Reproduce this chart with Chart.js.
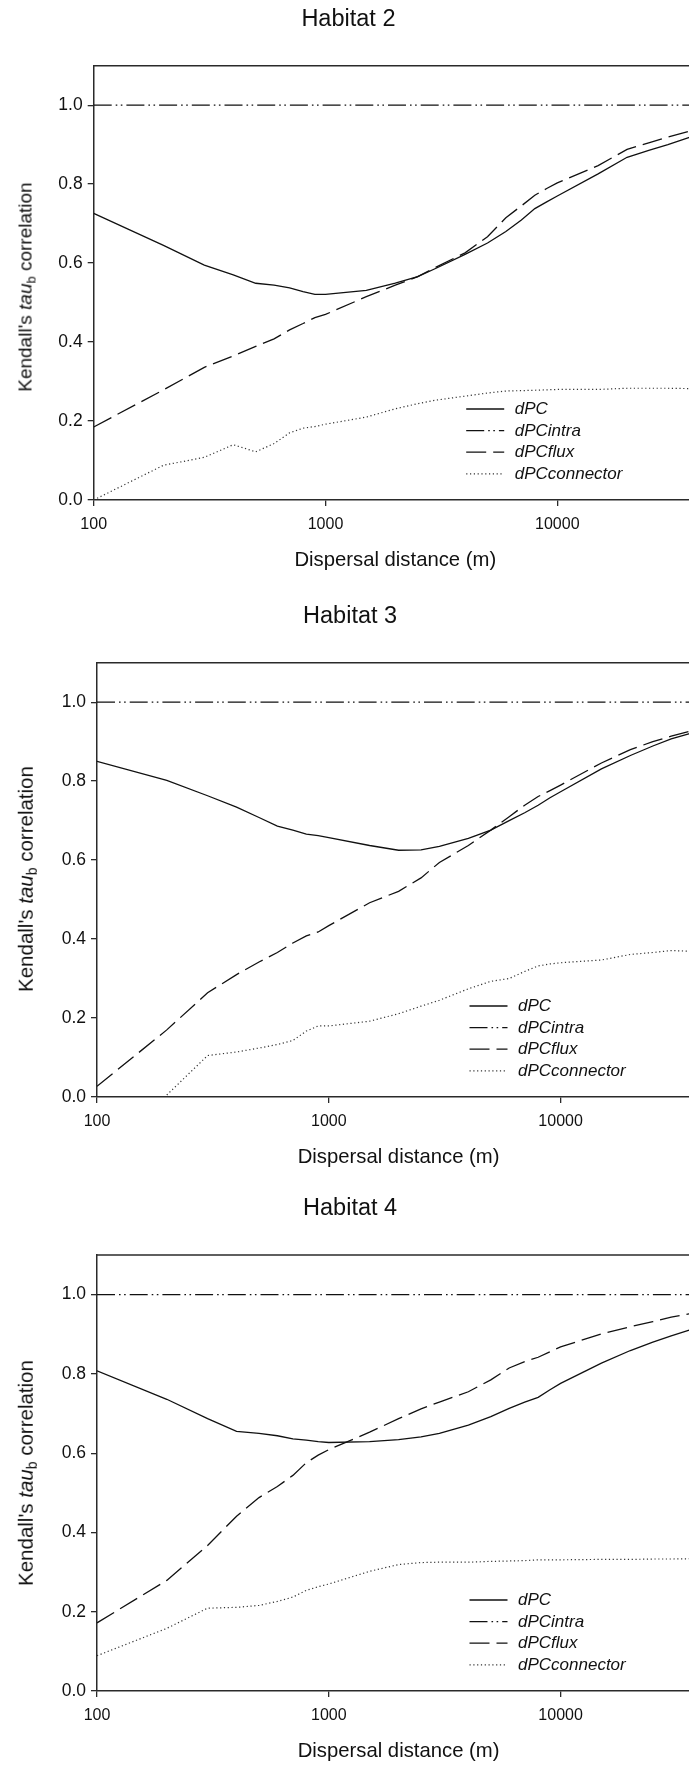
<!DOCTYPE html>
<html><head><meta charset="utf-8">
<script src="https://cdn.jsdelivr.net/npm/chart.js@4.4.1/dist/chart.umd.min.js"></script>
<style>
html,body{margin:0;padding:0;background:#fff;}
body{width:689px;height:1765px;overflow:hidden;position:relative;font-family:"Liberation Sans",Arial,sans-serif;color:#111;}
.panel{position:absolute;left:0;width:730px;}
.panel canvas{display:block;}
.ylab{position:absolute;white-space:nowrap;transform:translate(-50%,-50%) rotate(-90deg);color:#111;line-height:1;}
.ylab sub{font-size:0.68em;vertical-align:-0.3em;line-height:0;}
</style></head><body>
<script>
// ---- data ----
const distances = [100,200,300,400,500,600,700,800,900,1000,1500,2000,2500,3000,4000,5000,6000,7000,8000,9000,10000,15000,20000,25000,30000,40000];
const xTicks = [100, 1000, 10000];
const yTicks = [0.0, 0.2, 0.4, 0.6, 0.8, 1.0];
const seriesNames = ['dPC', 'dPCintra', 'dPCflux', 'dPCconnector'];
const panelTitles = ['Habitat 2', 'Habitat 3', 'Habitat 4'];
const xTitle = 'Dispersal distance (m)';

const h2_dPC   = [0.726,0.645,0.595,0.570,0.549,0.544,0.537,0.528,0.521,0.521,0.531,0.549,0.566,0.587,0.622,0.651,0.680,0.709,0.738,0.755,0.770,0.826,0.868,0.886,0.900,0.925];
const h2_intra = [1,1,1,1,1,1,1,1,1,1,1,1,1,1,1,1,1,1,1,1,1,1,1,1,1,1];
const h2_flux  = [0.185,0.279,0.336,0.365,0.389,0.408,0.431,0.447,0.462,0.470,0.515,0.544,0.566,0.590,0.626,0.667,0.715,0.745,0.772,0.789,0.803,0.847,0.888,0.905,0.919,0.939];
const h2_conn  = [0.000,0.088,0.108,0.140,0.122,0.143,0.170,0.182,0.186,0.192,0.210,0.231,0.244,0.253,0.263,0.271,0.276,0.277,0.278,0.279,0.280,0.280,0.283,0.283,0.283,0.282];

const h3_dPC   = [0.850,0.802,0.763,0.734,0.708,0.686,0.676,0.666,0.662,0.657,0.637,0.625,0.626,0.635,0.655,0.676,0.700,0.720,0.739,0.758,0.773,0.831,0.865,0.889,0.907,0.928];
const h3_intra = [1,1,1,1,1,1,1,1,1,1,1,1,1,1,1,1,1,1,1,1,1,1,1,1,1,1];
const h3_flux  = [0.027,0.170,0.264,0.310,0.342,0.366,0.390,0.408,0.418,0.434,0.492,0.521,0.555,0.594,0.637,0.676,0.710,0.739,0.761,0.776,0.790,0.846,0.880,0.900,0.914,0.933];
const h3_conn  = [null,0.005,0.105,0.114,0.124,0.133,0.143,0.167,0.180,0.180,0.192,0.211,0.230,0.245,0.274,0.293,0.300,0.318,0.332,0.337,0.340,0.347,0.361,0.366,0.371,0.368];

const h4_dPC   = [0.808,0.736,0.687,0.655,0.650,0.644,0.636,0.633,0.629,0.627,0.629,0.634,0.641,0.650,0.671,0.692,0.713,0.729,0.741,0.760,0.776,0.827,0.859,0.880,0.896,0.919];
const h4_intra = [1,1,1,1,1,1,1,1,1,1,1,1,1,1,1,1,1,1,1,1,1,1,1,1,1,1];
const h4_flux  = [0.172,0.279,0.367,0.441,0.488,0.516,0.544,0.576,0.595,0.609,0.653,0.687,0.712,0.729,0.755,0.785,0.815,0.831,0.842,0.856,0.868,0.901,0.919,0.932,0.943,0.957];
const h4_conn  = [0.089,0.158,0.209,0.211,0.216,0.226,0.237,0.254,0.263,0.270,0.302,0.319,0.324,0.325,0.325,0.327,0.328,0.329,0.331,0.331,0.331,0.332,0.332,0.333,0.333,0.334];

const panelSeries = [
  [h2_dPC, h2_intra, h2_flux, h2_conn],
  [h3_dPC, h3_intra, h3_flux, h3_conn],
  [h4_dPC, h4_intra, h4_flux, h4_conn]
];

// ---- layout / style ----
const FONT = '"Liberation Sans", Arial, sans-serif';
const INK = '#111';
const AXIS = '#2a2a2a';
const CANVAS_W = 730;
const layouts = [
  {top: 0,    left: 93.7, titleCY: 18, plotTop: 65.7,  plotBottom: 500,    ylabX: 25,   ylabY: 287.4, ylabSize: 19},
  {top: 597,  left: 97,   titleCY: 615, plotTop: 662.7, plotBottom: 1096.7, ylabX: 25.8, ylabY: 879,   ylabSize: 20.5},
  {top: 1189, left: 97,   titleCY: 1207, plotTop: 1255, plotBottom: 1690.7, ylabX: 25.8, ylabY: 1472.5, ylabSize: 20.5}
];
const styles = [
  {dash: [], width: 1.3, color: INK},
  {dash: [18, 4, 1.6, 3.5, 1.6, 4], width: 1.3, color: INK},
  {dash: [20, 7], width: 1.3, color: INK},
  {dash: [1.2, 2.6], width: 1.2, color: '#333'}
];
const TITLE_SIZE = 23.5, XTITLE_SIZE = 20.3, TICK_SIZE = 16, YTICK_SIZE = 17.5, LEGEND_SIZE = 17;
const XSCALE_H = 73;
const DECADE = 231.8;
const X_MIN = 100, X_MAX = 40000;

const frameLine = {
  id: 'frameLine',
  beforeDatasetsDraw(chart) {
    const {ctx, chartArea} = chart;
    ctx.save();
    ctx.strokeStyle = AXIS; ctx.lineWidth = 1.5;
    ctx.beginPath();
    ctx.moveTo(chartArea.left, chartArea.top);
    ctx.lineTo(chartArea.right + 2, chartArea.top);
    ctx.stroke();
    ctx.restore();
  }
};
const innerLegend = {
  id: 'innerLegend',
  afterDatasetsDraw(chart) {
    const {ctx, chartArea} = chart;
    ctx.save();
    chart.data.datasets.forEach((ds, i) => {
      const y = chartArea.bottom - 91 + i * 21.6;
      ctx.setLineDash(ds.borderDash || []);
      ctx.lineWidth = ds.borderWidth;
      ctx.strokeStyle = ds.borderColor;
      ctx.beginPath();
      ctx.moveTo(chartArea.left + 372.5, y);
      ctx.lineTo(chartArea.left + 410.5, y);
      ctx.stroke();
      ctx.setLineDash([]);
      ctx.fillStyle = INK;
      ctx.font = 'italic ' + LEGEND_SIZE + 'px ' + FONT;
      ctx.textAlign = 'left';
      ctx.textBaseline = 'middle';
      ctx.fillText(ds.label, chartArea.left + 421, y + 0.5);
    });
    ctx.restore();
  }
};

panelTitles.forEach((title, p) => {
  const L = layouts[p];
  const wrap = document.createElement('div');
  wrap.className = 'panel';
  wrap.style.top = L.top + 'px';
  const plotTopLocal = L.plotTop - L.top;
  const h = Math.round(plotTopLocal + (L.plotBottom - L.plotTop) + XSCALE_H);
  wrap.style.height = h + 'px';
  const cv = document.createElement('canvas');
  cv.width = CANVAS_W;
  cv.height = h;
  cv.style.width = CANVAS_W + 'px';
  cv.style.height = h + 'px';
  wrap.appendChild(cv);
  document.body.appendChild(wrap);

  const lab = document.createElement('div');
  lab.className = 'ylab';
  lab.style.left = L.ylabX + 'px';
  lab.style.top = L.ylabY + 'px';
  lab.style.fontSize = L.ylabSize + 'px';
  lab.innerHTML = "Kendall's <i>tau</i><sub>b</sub> correlation";
  document.body.appendChild(lab);

  const titleLH = TITLE_SIZE * 1.2;
  const padTop = (L.titleCY - L.top) - titleLH / 2 + 1.5;
  const padBottom = plotTopLocal - padTop - titleLH;
  const plotRight = L.left + DECADE * Math.log10(X_MAX / X_MIN);

  const datasets = panelSeries[p].map((vals, i) => ({
    label: seriesNames[i],
    data: distances.map((d, k) => ({x: d, y: vals[k]})),
    borderColor: styles[i].color,
    borderWidth: styles[i].width,
    borderDash: styles[i].dash,
    pointRadius: 0,
    tension: 0,
    fill: false,
    spanGaps: false
  }));

  new Chart(cv, {
    type: 'line',
    data: {datasets},
    options: {
      responsive: false,
      maintainAspectRatio: false,
      animation: false,
      devicePixelRatio: 1,
      layout: {padding: {top: 0, left: 0, bottom: 0, right: CANVAS_W - plotRight}},
      plugins: {
        legend: {display: false},
        tooltip: {enabled: false},
        title: {
          display: true, text: title, color: INK,
          font: {family: FONT, size: TITLE_SIZE, weight: 'normal'},
          padding: {top: padTop, bottom: padBottom}
        }
      },
      scales: {
        x: {
          type: 'logarithmic', position: 'bottom', min: X_MIN, max: X_MAX,
          afterBuildTicks: s => { s.ticks = xTicks.map(v => ({value: v})); },
          afterFit: s => { s.height = XSCALE_H; },
          ticks: {color: INK, font: {family: FONT, size: TICK_SIZE}, padding: 8.5, maxRotation: 0, autoSkip: false,
                  callback: v => String(v)},
          grid: {display: true, drawOnChartArea: false, drawTicks: true, tickLength: 6, color: AXIS, lineWidth: 1.3},
          border: {display: true, color: AXIS, width: 1.5},
          title: {display: true, text: xTitle, color: INK, font: {family: FONT, size: XTITLE_SIZE}, padding: {top: 0, bottom: 0}}
        },
        y: {
          type: 'linear', position: 'left', min: 0, max: 1.1,
          afterBuildTicks: s => { s.ticks = yTicks.map(v => ({value: v})); },
          afterFit: s => { s.width = L.left; },
          ticks: {color: INK, font: {family: FONT, size: YTICK_SIZE}, padding: 5, callback: v => Number(v).toFixed(1)},
          grid: {display: true, drawOnChartArea: false, drawTicks: true, tickLength: 6, color: AXIS, lineWidth: 1.3},
          border: {display: true, color: AXIS, width: 1.5}
        }
      }
    },
    plugins: [frameLine, innerLegend]
  });
});
</script>
</body></html>
